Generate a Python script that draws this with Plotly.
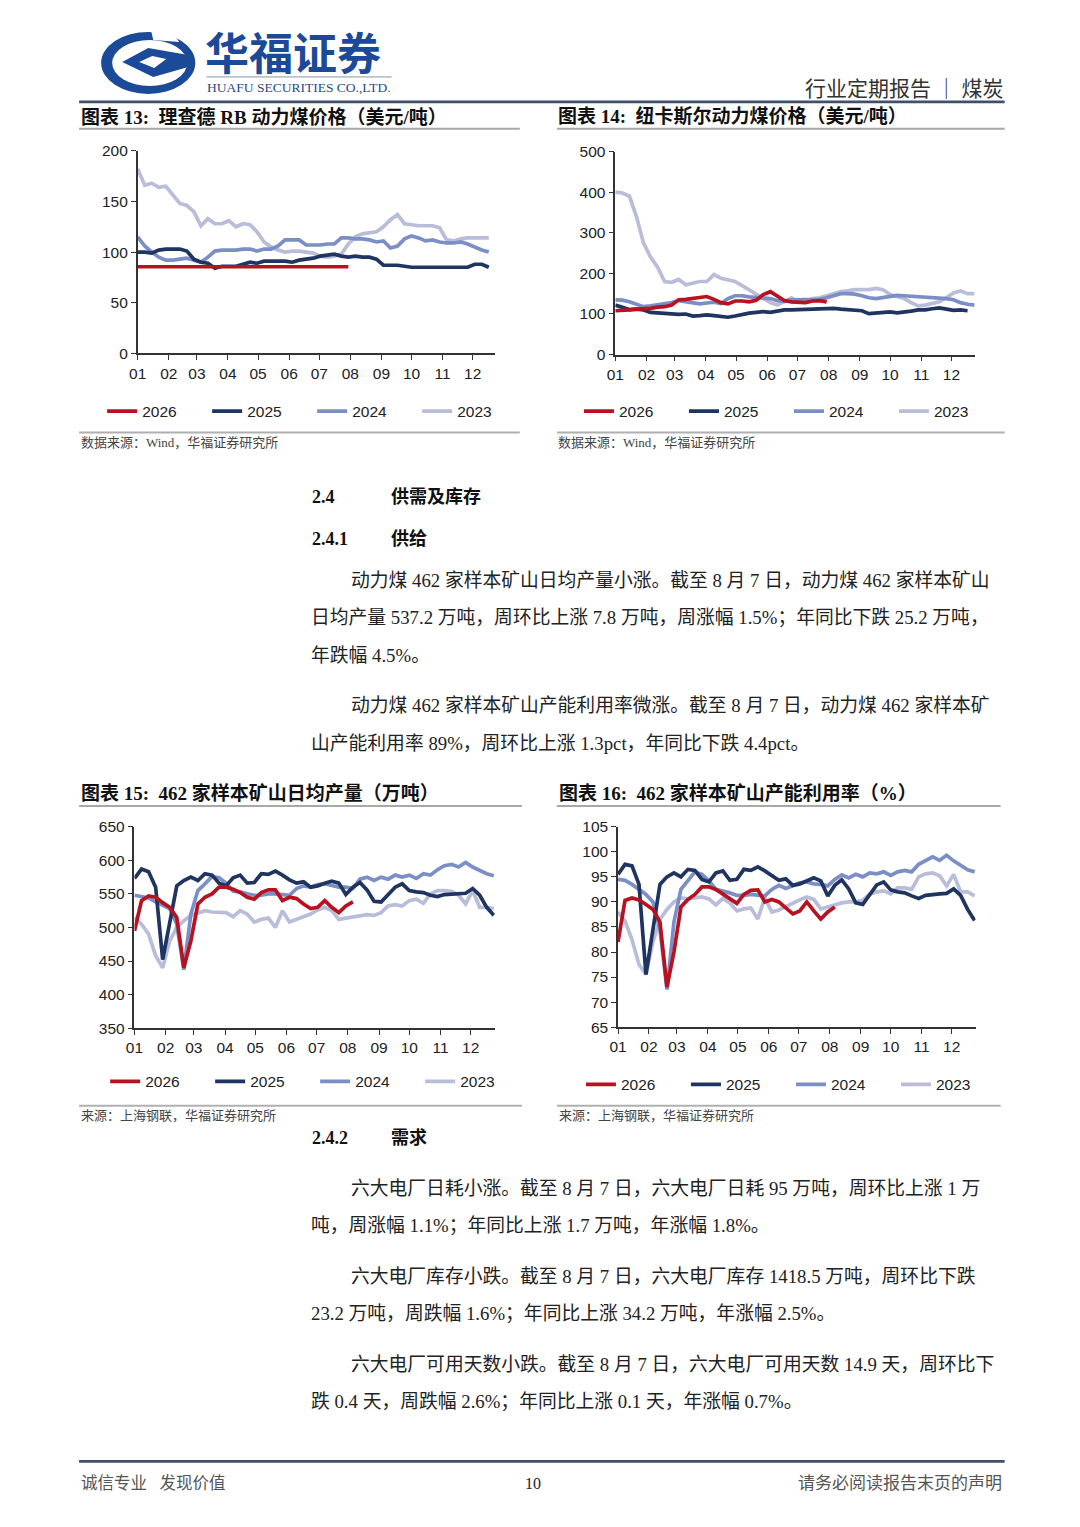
import plotly.graph_objects as go

W, H = 1080, 1527
# the captured page shows the figure offset by ~16px and scaled by ~0.99; compensate
OFF, SC = 16.0, 0.99

# ---------------- data ----------------
MONTH_DAYS = [0, 31, 59, 90, 120, 151, 181, 212, 243, 273, 304, 334]
MONTH_LABELS = ["01", "02", "03", "04", "05", "06", "07", "08", "09", "10", "11", "12"]
YEARS = ["2026", "2025", "2024", "2023"]

# Chart 13: Richards Bay thermal coal price (USD/t), weekly
rb_2026 = [85.5, 85.5, 85.5, 85.5, 85.5, 85.5, 85.5, 85.5, 85.5, 85.5, 85.5, 85.5, 85.5, 85.5, 85.5,
           85.5, 85.5, 85.5, 85.5, 85.5, 85.5, 85.5, 85.5, 85.5, 85.5, 85.5, 85.5, 85.5, 85.5, 85.5, 85.5]
rb_2025 = [100, 100, 99, 102, 103, 103, 103, 101, 93, 90, 89, 84, 86, 86, 86, 88, 90, 89, 91, 91, 91, 91,
           90, 92, 93, 94, 96, 97, 98, 96, 95, 96, 95, 95, 93, 87, 87, 87, 86, 85, 85, 85, 85, 85, 85, 85,
           85, 85, 88, 88, 85]
rb_2024 = [115, 106, 100, 95, 92, 92, 93, 94, 92, 90, 95, 101, 102, 102, 102, 103, 103, 101, 103, 103, 106,
           112, 112, 112, 107, 107, 107, 108, 108, 114, 114, 113, 113, 112, 110, 111, 104, 106, 113, 116,
           114, 111, 112, 110, 109, 109, 110, 108, 105, 102, 100]
rb_2023 = [182, 166, 168, 164, 165, 157, 148, 146, 140, 126, 133, 128, 128, 131, 125, 128, 127, 120, 110,
           105, 102, 100, 101, 101, 100, 99, 96, 95, 96, 98, 108, 115, 118, 119, 120, 125, 132, 137, 128,
           127, 126, 126, 126, 124, 112, 111, 113, 114, 114, 114, 114]

# Chart 14: Newcastle thermal coal price (USD/t), weekly
nc_2026 = [108, 108, 110, 112, 112, 114, 117, 118, 122, 135, 136, 138, 142, 143, 136, 128, 125, 132, 132,
           130, 134, 148, 155, 143, 133, 130, 128, 128, 132, 133, 130]
nc_2025 = [122, 116, 111, 112, 110, 104, 103, 102, 99, 99, 100, 95, 96, 98, 96, 93, 92, 95, 99, 102, 104,
           106, 104, 108, 110, 110, 111, 111, 112, 112, 115, 114, 112, 110, 110, 108, 101, 102, 104, 105,
           103, 104, 107, 110, 110, 113, 115, 112, 109, 110, 108]
nc_2024 = [135, 134, 130, 124, 118, 120, 122, 125, 128, 133, 130, 126, 125, 127, 129, 126, 138, 145, 145,
           142, 140, 140, 138, 133, 131, 135, 135, 134, 134, 136, 140, 145, 150, 150, 149, 145, 140, 138,
           140, 143, 146, 145, 144, 143, 143, 141, 140, 138, 135, 128, 124, 122]
nc_2023 = [400, 398, 390, 340, 275, 240, 215, 180, 178, 185, 172, 175, 180, 180, 197, 188, 185, 180, 170,
           160, 150, 140, 128, 122, 132, 140, 130, 132, 138, 140, 145, 150, 155, 157, 160, 160, 160, 163,
           160, 148, 143, 138, 128, 120, 122, 125, 130, 140, 152, 157, 150, 150]

# Chart 15: 462 sample mines daily output (10k t)
out_2026 = [495, 540, 547, 545, 537, 530, 515, 440, 480, 535, 545, 550, 560, 560, 557, 552, 545, 542, 552,
            556, 556, 540, 545, 543, 535, 528, 530, 540, 530, 522, 532, 538]
out_2025 = [573, 587, 583, 560, 452, 505, 562, 570, 575, 570, 580, 578, 566, 562, 574, 578, 566, 567, 580,
            579, 584, 578, 571, 566, 568, 560, 562, 566, 569, 566, 549, 560, 567, 556, 539, 538, 550, 560,
            565, 555, 553, 552, 548, 546, 549, 550, 550, 551, 558, 548, 530, 518]
out_2024 = [548, 546, 544, 538, 533, 528, 505, 437, 520, 555, 565, 576, 574, 566, 554, 553, 550, 548, 548,
            550, 550, 549, 548, 558, 562, 560, 564, 565, 563, 560, 560, 558, 572, 575, 570, 575, 572, 578,
            575, 578, 573, 580, 578, 586, 592, 594, 590, 597, 590, 585, 580, 577]
out_2023 = [515, 505, 490, 458, 440, 480, 500, 510, 518, 522, 525, 523, 523, 522, 516, 525, 520, 508, 512,
            514, 500, 525, 508, 512, 515, 520, 526, 530, 525, 512, 514, 516, 518, 519, 518, 522, 532, 534,
            532, 540, 542, 536, 550, 555, 555, 554, 548, 535, 555, 530, 530, 528]

# Chart 16: 462 sample mines capacity utilisation (%)
util_2026 = [82, 90.3, 90.8, 90.4, 89.5, 88.5, 86, 73, 80, 89, 90.5, 91.5, 93, 93, 92.5, 91.5, 90.7, 89.7,
             91.5, 92.3, 92.4, 90, 90.5, 90, 88.8, 87.6, 88.2, 90, 88.2, 86.6, 88, 89]
util_2025 = [95.5, 97.5, 97.2, 93.5, 75.5, 84, 93.5, 95, 95.8, 95, 96.5, 96.3, 94.5, 94, 95.8, 96.2, 94.3,
             94.5, 96.5, 96.3, 97, 96.2, 95.2, 94.3, 94.6, 93.3, 93.6, 94.2, 94.8, 94.2, 91.2, 93.3, 94.4,
             92.6, 89.8, 89.5, 91.6, 93.4, 94, 92.4, 92, 91.8, 91.2, 90.7, 91.3, 91.5, 91.6, 91.7, 92.6,
             91.3, 88.5, 86.3]
util_2024 = [94.5, 94.3, 93.5, 92.5, 91.5, 90, 84.5, 72.5, 86, 92.5, 94.3, 96, 95.5, 94.2, 92.5, 92.2, 91.8,
             91.3, 91.3, 91.5, 91.4, 91.2, 92.5, 93.3, 92.7, 93.3, 93.8, 94, 93.6, 93.5, 93.2, 94.5, 95.4,
             94.8, 95.5, 95, 95.8, 95.6, 96, 95.3, 96, 96.3, 96, 97.5, 98.3, 99, 98.3, 99.3, 98.2, 97.2,
             96.4, 96]
util_2023 = [88, 86.2, 82.5, 77.5, 75.5, 82, 86.5, 88.5, 90, 90.8, 90.6, 90.8, 91, 90.6, 89.4, 90.7, 89.8,
             88.2, 88.6, 88.8, 86.6, 90.8, 88, 88.4, 89, 89.6, 90.4, 91, 90.5, 88.6, 89, 89.4, 89.8, 90, 90,
             90.3, 91.6, 92, 92.2, 91.6, 92.8, 92.8, 92.5, 95, 95.6, 95.8, 95.2, 93.2, 95.5, 92, 92, 91.2]

# ---------------- style ----------------
COLORS = {"2026": "#b8111f", "2025": "#1f3461", "2024": "#7b8fc6", "2023": "#b9bdd9"}
LATIN = "Liberation Sans, Arial, sans-serif"
SERIF = "Liberation Serif, Noto Sans CJK SC, serif"
CJK = "Noto Sans CJK SC, sans-serif"


def px(x):
    return (x - OFF) / SC / W


def py(y):
    return 1 - (y - OFF) / SC / H


charts = [
    ({"2026": rb_2026, "2025": rb_2025, "2024": rb_2024, "2023": rb_2023}, "", "legend",
     (136.5, 493), (352.7, 150.0), (0, 200), 50, 356, (101, 411)),
    ({"2026": nc_2026, "2025": nc_2025, "2024": nc_2024, "2023": nc_2023}, "2", "legend2",
     (613.3, 972), (354.0, 150.7), (0, 500), 100, 357, (577, 411)),
    ({"2026": out_2026, "2025": out_2025, "2024": out_2024, "2023": out_2023}, "3", "legend3",
     (133.3, 493), (1028.3, 826.7), (350, 650), 50, 358, (104, 1082)),
    ({"2026": util_2026, "2025": util_2025, "2024": util_2024, "2023": util_2023}, "4", "legend4",
     (616, 973), (1027.3, 826.7), (65, 105), 5, 358, (579, 1085)),
]

fig = go.Figure()
layout = {}
for series, suf, leg, xd, yd, yr, dt, xend, legpos in charts:
    for yr_name in ["2023", "2024", "2025", "2026"]:
        vals = series[yr_name]
        days = [7 * i for i in range(len(vals))]
        fig.add_trace(go.Scatter(
            x=days, y=vals, mode="lines", name=yr_name,
            line=dict(color=COLORS[yr_name], width=3.7),
            xaxis="x" + suf, yaxis="y" + suf, legend=leg,
            legendrank=YEARS.index(yr_name) + 1, hoverinfo="skip",
        ))
    layout["xaxis" + suf] = dict(
        domain=[px(xd[0]), px(xd[1])], range=[0, xend], anchor="y" + suf,
        tickvals=MONTH_DAYS, ticktext=MONTH_LABELS, ticks="outside", ticklen=5,
        tickcolor="#333", tickwidth=1.3, showline=True, linecolor="#333", linewidth=1.5,
        showgrid=False, zeroline=False, tickfont=dict(family=LATIN, size=15.5, color="#222"),
    )
    layout["yaxis" + suf] = dict(
        domain=[py(yd[0]), py(yd[1])], range=list(yr), anchor="x" + suf,
        dtick=dt, tick0=yr[0], ticks="outside", ticklen=5, tickcolor="#333", tickwidth=1.3,
        showline=True, linecolor="#333", linewidth=1.5, showgrid=False, zeroline=False,
        tickfont=dict(family=LATIN, size=15.5, color="#222"),
    )
    layout[leg] = dict(
        x=px(legpos[0]), y=py(legpos[1]), xanchor="left", yanchor="middle",
        orientation="h", entrywidth=60, entrywidthmode="pixels",
        font=dict(family=LATIN, size=15.5, color="#222"), bgcolor="rgba(0,0,0,0)",
        borderwidth=0, tracegroupgap=0,
    )

shapes = []
annotations = []


def hline(x0, x1, y, color, width):
    shapes.append(dict(type="line", xref="paper", yref="paper", x0=px(x0), x1=px(x1),
                       y0=py(y), y1=py(y), line=dict(color=color, width=width)))


def text(s, x, y, size, color="#222", anchor="left", family=SERIF):
    annotations.append(dict(text=s, x=px(x), y=py(y), xref="paper", yref="paper",
                            xanchor=anchor, yanchor="middle", showarrow=False,
                            font=dict(family=family, size=size, color=color)))


def path(points):
    return "M " + " L ".join(f"{px(a):.5f},{py(b):.5f}" for a, b in points) + " Z"


# ---------- header / logo ----------
LOGO = "#1b4a98"
shapes.append(dict(type="circle", xref="paper", yref="paper", x0=px(100), x1=px(194), y0=py(93), y1=py(31),
                   fillcolor=LOGO, line=dict(width=0)))
shapes.append(dict(type="circle", xref="paper", yref="paper", x0=px(111), x1=px(186), y0=py(85), y1=py(39),
                   fillcolor="white", line=dict(width=0)))
# spiral gap on the upper edge
shapes.append(dict(type="path", xref="paper", yref="paper",
                   path=path([(150, 30), (170, 30), (178, 41), (152, 39)]),
                   fillcolor="white", line=dict(width=0)))
# inner left-pointing chevron joined to the ring on the right
shapes.append(dict(type="path", xref="paper", yref="paper",
                   path=path([(121, 61), (147, 47), (187, 54), (187, 66), (152, 76)]),
                   fillcolor=LOGO, line=dict(width=0)))
shapes.append(dict(type="path", xref="paper", yref="paper",
                   path=path([(138, 61), (151, 55), (165, 58), (153, 67)]),
                   fillcolor="white", line=dict(width=0)))

text("<b>华福证券</b>", 202, 50, 44, LOGO, family=CJK)
hline(205, 390, 76, "#8a94a8", 1)
text("HUAFU SECURITIES CO.,LTD.", 204, 86.5, 13.5, "#2a4a88", family="Liberation Serif, serif")
text("行业定期报告 ｜ 煤炭", 1002, 86, 21, "#333", anchor="right", family=CJK)
hline(78, 1002, 101, "#3f5068", 2.6)

# ---------- chart titles / frames ----------
TITLE = 19
text("<b>图表 13:  理查德 RB 动力煤价格（美元/吨）</b>", 78, 116, TITLE, "#111")
text("<b>图表 14:  纽卡斯尔动力煤价格（美元/吨）</b>", 554, 116, TITLE, "#111")
hline(78, 518, 128, "#a8a8a8", 2)
hline(555, 1002, 128, "#a8a8a8", 2)
hline(78, 518, 432, "#b0b0b0", 2)
hline(555, 1002, 432, "#b0b0b0", 2)
text("数据来源：Wind，华福证券研究所", 78, 442, 13, "#444")
text("数据来源：Wind，华福证券研究所", 554, 442, 13, "#444")

# ---------- section 2.4 ----------
text("<b>2.4</b>", 309, 497, 18, "#111")
text("<b>供需及库存</b>", 387, 497, 18, "#111")
text("<b>2.4.1</b>", 309, 539, 18, "#111")
text("<b>供给</b>", 387, 539, 18, "#111")
BODY = 18.8
text("动力煤 462 家样本矿山日均产量小涨。截至 8 月 7 日，动力煤 462 家样本矿山", 347, 580, BODY)
text("日均产量 537.2 万吨，周环比上涨 7.8 万吨，周涨幅 1.5%；年同比下跌 25.2 万吨，", 308, 617, BODY)
text("年跌幅 4.5%。", 308, 655, BODY)
text("动力煤 462 家样本矿山产能利用率微涨。截至 8 月 7 日，动力煤 462 家样本矿", 347, 705, BODY)
text("山产能利用率 89%，周环比上涨 1.3pct，年同比下跌 4.4pct。", 308, 743, BODY)

text("<b>图表 15:  462 家样本矿山日均产量（万吨）</b>", 78, 793, TITLE, "#111")
text("<b>图表 16:  462 家样本矿山产能利用率（%）</b>", 555, 793, TITLE, "#111")
hline(78, 520, 806, "#a8a8a8", 2)
hline(555, 998, 806, "#a8a8a8", 2)
hline(78, 520, 1106, "#b0b0b0", 2)
hline(555, 998, 1106, "#b0b0b0", 2)
text("来源：上海钢联，华福证券研究所", 78, 1116, 13, "#444")
text("来源：上海钢联，华福证券研究所", 555, 1116, 13, "#444")

text("<b>2.4.2</b>", 309, 1138, 18, "#111")
text("<b>需求</b>", 387, 1138, 18, "#111")
text("六大电厂日耗小涨。截至 8 月 7 日，六大电厂日耗 95 万吨，周环比上涨 1 万", 347, 1189, BODY)
text("吨，周涨幅 1.1%；年同比上涨 1.7 万吨，年涨幅 1.8%。", 308, 1226, BODY)
text("六大电厂库存小跌。截至 8 月 7 日，六大电厂库存 1418.5 万吨，周环比下跌", 347, 1277, BODY)
text("23.2 万吨，周跌幅 1.6%；年同比上涨 34.2 万吨，年涨幅 2.5%。", 308, 1314, BODY)
text("六大电厂可用天数小跌。截至 8 月 7 日，六大电厂可用天数 14.9 天，周环比下", 347, 1365, BODY)
text("跌 0.4 天，周跌幅 2.6%；年同比上涨 0.1 天，年涨幅 0.7%。", 308, 1402, BODY)

# ---------- footer ----------
hline(78, 1002, 1462, "#3f5068", 2.6)
text("诚信专业   发现价值", 78, 1484, 16.5, "#555")
text("10", 531, 1484, 16, "#222", anchor="center", family="Liberation Serif, serif")
text("请务必阅读报告末页的声明", 1001, 1484, 17, "#555", anchor="right")

fig.update_layout(
    width=W, height=H, margin=dict(l=0, r=0, t=0, b=0),
    paper_bgcolor="white", plot_bgcolor="white", showlegend=True,
    shapes=shapes, annotations=annotations, **layout,
)

fig.write_html("out.html")
